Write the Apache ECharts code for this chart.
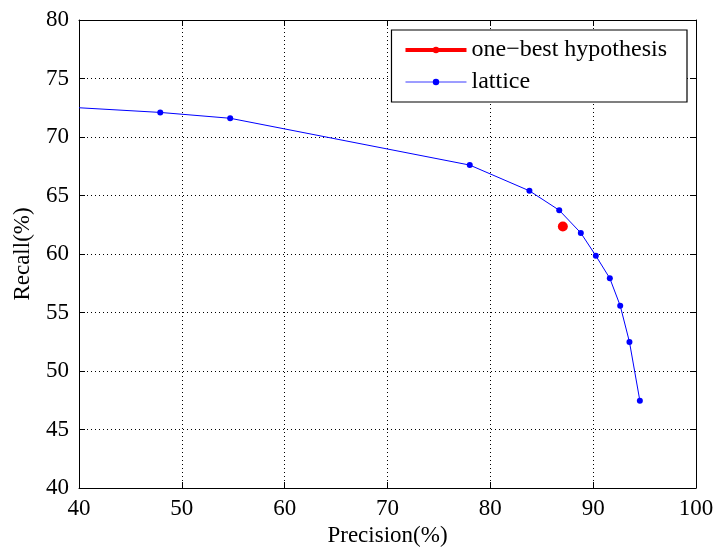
<!DOCTYPE html>
<html>
<head>
<meta charset="utf-8">
<script src="https://cdn.jsdelivr.net/npm/echarts@6/dist/echarts.min.js"></script>
<style>html,body{margin:0;padding:0;background:#fff}#c{width:714px;height:548px}</style>
</head>
<body>
<div id="c"></div>
<script>
const xTicks = [40, 50, 60, 70, 80, 90, 100];
const yTicks = [40, 45, 50, 55, 60, 65, 70, 75, 80];
const latticePrecision = [40, 47.9, 54.7, 78.0, 83.8, 86.7, 88.8, 90.26, 91.62, 92.63, 93.53, 94.54];
const latticeRecall = [72.5, 72.1, 71.6, 67.6, 65.4, 63.74, 61.8, 59.85, 57.92, 55.58, 52.48, 47.46];
const oneBestPrecision = [87.05];
const oneBestRecall = [62.35];

const FONT = 'Liberation Serif';
const latticeData = latticePrecision.map((p, i) => {
  const d = { value: [p, latticeRecall[i]] };
  if (i === 0) d.symbolSize = 0;
  return d;
});
const oneBestData = oneBestPrecision.map((p, i) => [p, oneBestRecall[i]]);

const xMin = xTicks[0], xMax = xTicks[xTicks.length - 1], xInt = xTicks[1] - xTicks[0];
const yMin = yTicks[0], yMax = yTicks[yTicks.length - 1], yInt = yTicks[1] - yTicks[0];

const axisLine = { show: true, onZero: false, lineStyle: { color: '#000', width: 1 } };
const tick = { show: true, inside: true, length: 6, lineStyle: { color: '#000' } };
const grid = { show: true, lineStyle: { color: '#000', width: 1, type: [1, 3] } };

const chart = echarts.init(document.getElementById('c'), null, { renderer: 'canvas' });
chart.setOption({
  animation: false,
  backgroundColor: '#fff',
  textStyle: { fontFamily: FONT },
  grid: { left: 79, right: 18, top: 20, bottom: 60, containLabel: false, outerBoundsMode: 'none' },
  xAxis: [
    { type: 'value', min: xMin, max: xMax, interval: xInt, position: 'bottom',
      axisLine, axisTick: tick, splitLine: grid,
      axisLabel: { color: '#000', fontFamily: FONT, fontSize: 23, margin: 9 },
      name: 'Precision(%)', nameLocation: 'middle', nameGap: 35,
      nameTextStyle: { color: '#000', fontFamily: FONT, fontSize: 23 } },
    { type: 'value', min: xMin, max: xMax, interval: xInt, position: 'top',
      axisLine, axisTick: tick, splitLine: { show: false }, axisLabel: { show: false } }
  ],
  yAxis: [
    { type: 'value', min: yMin, max: yMax, interval: yInt, position: 'left',
      axisLine, axisTick: tick, splitLine: grid,
      axisLabel: { color: '#000', fontFamily: FONT, fontSize: 23, margin: 10 },
      name: 'Recall(%)', nameLocation: 'middle', nameGap: 45,
      nameTextStyle: { color: '#000', fontFamily: FONT, fontSize: 23 } },
    { type: 'value', min: yMin, max: yMax, interval: yInt, position: 'right',
      axisLine, axisTick: tick, splitLine: { show: false }, axisLabel: { show: false } }
  ],
  legend: {
    orient: 'vertical', right: 27, top: 30,
    data: [
      { name: 'one\u2212best hypothesis', lineStyle: { width: 4, color: '#ff0000' } },
      { name: 'lattice', lineStyle: { width: 1, color: '#3a3aff' } }
    ],
    backgroundColor: '#fff', borderColor: '#000', borderWidth: 1.2, borderRadius: 0,
    padding: [8, 20, 8, 12], itemWidth: 61, itemHeight: 8, itemGap: 8,
    textStyle: { color: '#000', fontFamily: FONT, fontSize: 24, lineHeight: 24 }
  },
  series: [
    { name: 'lattice', type: 'line', data: latticeData, symbol: 'circle', symbolSize: 6,
      itemStyle: { color: '#0000ff' }, lineStyle: { color: '#0000ff', width: 1 },
      clip: true, z: 2 },
    { name: 'one\u2212best hypothesis', type: 'line', data: oneBestData, symbol: 'circle', symbolSize: 10,
      itemStyle: { color: '#ff0000' }, lineStyle: { color: '#ff0000', width: 4 }, z: 3 }
  ]
});
</script>
</body>
</html>
